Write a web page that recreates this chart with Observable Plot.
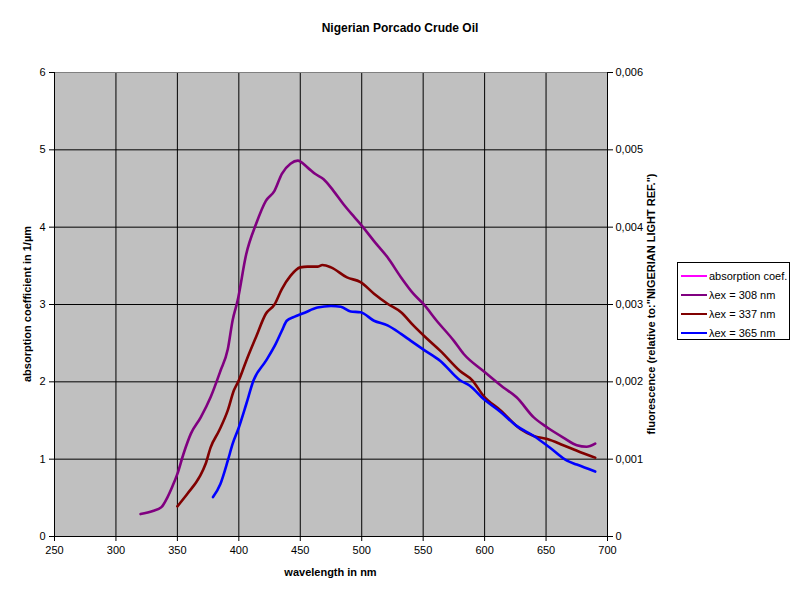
<!DOCTYPE html>
<html><head><meta charset="utf-8">
<script src="https://cdn.jsdelivr.net/npm/d3@7"></script>
<script src="https://cdn.jsdelivr.net/npm/@observablehq/plot@0.6"></script>
<style>
body{margin:0;background:#fff;font-family:"Liberation Sans",Arial,sans-serif;}
#wrap{position:relative;width:800px;height:600px;}
#title{height:40px;box-sizing:border-box;padding-top:20px;text-align:center;font-size:12px;font-weight:bold;line-height:16px;}
#chart svg{display:block;}
#legend{position:absolute;left:677px;top:262px;width:113px;height:78px;border:1px solid #000;box-sizing:border-box;background:#fff;font-size:11px;}
.row{position:absolute;left:3px;height:14px;display:flex;align-items:center;white-space:nowrap;}
.sw{width:26px;height:2px;margin-right:2px;}
</style></head><body>
<div id="wrap"><div id="title">Nigerian Porcado Crude Oil</div><div id="chart"></div><div id="legend"></div></div>
<script>
const xTicks = [250,300,350,400,450,500,550,600,650,700];
const yTicks = [0,1,2,3,4,5,6];
const rightTicks = [0,0.001,0.002,0.003,0.004,0.005,0.006];
const seriesNames = ["absorption coef.","λex = 308 nm","λex = 337 nm","λex = 365 nm"];
const seriesColors = ["#ff00ff","#800080","#800000","#0000ff"];

const w308 = [320,330,337,342,346,350,355,361,369,377,385,391,395,399,406,414,422,429,435,442,448,456,462,469,477,485,494,500,510,521,532,542,550,561,575,583,599,615,626,640,651,664,675,683,690];
const f308 = [0.00029,0.00033,0.00038,0.00051,0.00065,0.00081,0.00107,0.00133,0.00154,0.00180,0.00214,0.00242,0.00280,0.00305,0.00365,0.00404,0.00434,0.00447,0.00469,0.00482,0.00486,0.00477,0.00469,0.00462,0.00447,0.00430,0.00413,0.00402,0.00382,0.00361,0.00335,0.00314,0.00301,0.00279,0.00253,0.00236,0.00214,0.00193,0.00180,0.00154,0.00141,0.00128,0.00118,0.00116,0.00120];

const w337 = [350,358,368,373,377,384,391,396,400,406,414,422,429,435,442,450,456,464,468,475,488,499,510,521,532,542,553,564,580,590,599,613,629,640,651,664,678,690];
const f337 = [0.00039,0.00055,0.00077,0.00094,0.00115,0.00137,0.00163,0.00189,0.00202,0.00227,0.00258,0.00288,0.00300,0.00320,0.00337,0.00348,0.00349,0.00349,0.00351,0.00348,0.00335,0.00329,0.00314,0.00301,0.00290,0.00273,0.00256,0.00240,0.00214,0.00202,0.00182,0.00163,0.00139,0.00130,0.00126,0.00118,0.00109,0.00102];

const w365 = [379,385,391,395,400,406,412,422,430,435,439,445,453,464,475,483,491,499,510,521,532,540,550,564,580,588,599,613,626,640,653,667,675,690];
const f365 = [0.00051,0.00068,0.00098,0.00120,0.00141,0.00171,0.00202,0.00227,0.00249,0.00266,0.00279,0.00284,0.00289,0.00296,0.00298,0.00297,0.00291,0.00290,0.00279,0.00273,0.00262,0.00253,0.00242,0.00227,0.00202,0.00195,0.00178,0.00161,0.00143,0.00130,0.00115,0.00098,0.00093,0.00084];

const toRows = (w, f) => w.map((x, i) => ({w: x, f: f[i]}));
const scaleRight = 1000; // right axis 0..0.006 maps onto left axis 0..6
const lineOpts = (c) => ({x: "w", y: d => d.f * scaleRight, stroke: c, strokeWidth: 2.6, curve: "monotone-x"});

const chart = Plot.plot({
  width: 800, height: 560,
  marginTop: 32, marginBottom: 64, marginLeft: 54, marginRight: 193,
  style: {fontFamily: "'Liberation Sans', Arial, sans-serif", fontSize: "11px", color: "#000", background: "transparent"},
  x: {domain: [250, 700]},
  y: {domain: [0, 6]},
  marks: [
    Plot.frame({fill: "#c0c0c0", stroke: null}),
    Plot.ruleX(xTicks.slice(1, -1), {stroke: "#000", strokeWidth: 1}),
    Plot.ruleY(yTicks.slice(1, -1), {stroke: "#000", strokeWidth: 1}),
    Plot.ruleY([6], {stroke: "#808080"}),
    Plot.ruleY([0], {stroke: "#000"}),
    Plot.ruleX([250, 700], {stroke: "#000"}),
    Plot.axisX({ticks: xTicks, tickSize: 5, tickPadding: 5, label: null, tickFormat: d => String(d)}),
    Plot.axisY({anchor: "left", ticks: yTicks, tickSize: 5, tickPadding: 4, label: null, tickFormat: d => String(d)}),
    Plot.axisY({anchor: "right", ticks: rightTicks.map(v => v * scaleRight), tickSize: 5, tickPadding: 3, label: null,
      tickFormat: d => { const v = rightTicks[Math.round(d)]; return v === 0 ? "0" : v.toFixed(3).replace(".", ","); }}),
    Plot.line(toRows(w308, f308), lineOpts(seriesColors[1])),
    Plot.line(toRows(w337, f337), lineOpts(seriesColors[2])),
    Plot.line(toRows(w365, f365), lineOpts(seriesColors[3]))
  ]
});
document.getElementById("chart").appendChild(chart);

const svg = d3.select(chart);
const xs = chart.scale("x"), ys = chart.scale("y");
const cx = (xs.apply(250) + xs.apply(700)) / 2;
const cy = (ys.apply(0) + ys.apply(6)) / 2;
svg.append("text").attr("x", cx).attr("y", 533).attr("text-anchor", "middle").attr("dominant-baseline", "middle")
  .attr("font-weight", "bold").attr("font-size", 11).text("wavelength in nm");
svg.append("text").attr("transform", `translate(28,${cy}) rotate(-90)`).attr("text-anchor", "middle").attr("dominant-baseline", "middle")
  .attr("font-weight", "bold").attr("font-size", 11).text("absorption coefficient in 1/µm");
svg.append("text").attr("transform", `translate(652,${cy}) rotate(-90)`).attr("text-anchor", "middle").attr("dominant-baseline", "middle")
  .attr("font-weight", "bold").attr("font-size", 11).text('fluorescence (relative to:"NIGERIAN LIGHT REF.")');

const legend = document.getElementById("legend");
seriesNames.forEach((name, i) => {
  const row = document.createElement("div");
  row.className = "row";
  row.style.top = (6 + i * 19) + "px";
  row.innerHTML = `<span class="sw" style="background:${seriesColors[i]}"></span><span>${name}</span>`;
  legend.appendChild(row);
});
</script>
</body></html>
